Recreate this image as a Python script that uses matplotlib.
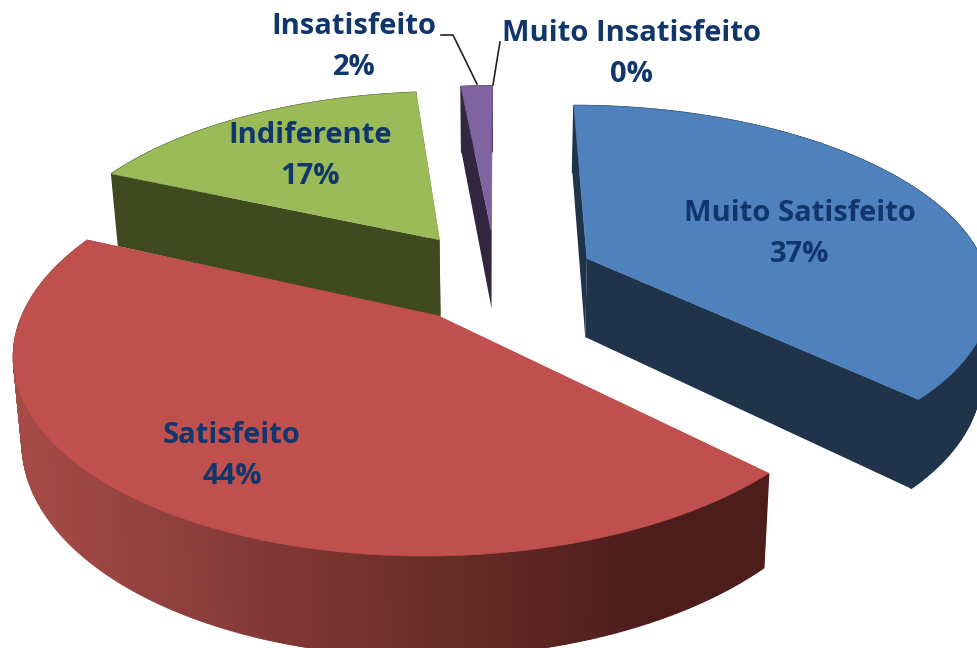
import numpy as np
import matplotlib
matplotlib.use("Agg")
import matplotlib.pyplot as plt
from matplotlib.patches import Polygon
from matplotlib.colors import to_rgb

labels = ["Muito Satisfeito", "Satisfeito", "Indiferente", "Insatisfeito", "Muito Insatisfeito"]
values = [37.3, 44.4, 16.8, 1.5, 0]
top_colors = ["#4f81bd", "#c0504d", "#9bbb59", "#8064a2", "#4bacc6"]
wall_light = ["#1f334b", "#a54b47", "#3f4a20", "#33273f", "#245a68"]
wall_dark = ["#1f334b", "#4c1d1b", "#3f4a20", "#33273f", "#245a68"]

# text positions in pixels (x, y of the centre of the label)
label_pos = [(800, 234), (232, 456), (310, 156), (354, 47), (631, 54)]
text_color = "#10366b"

# projection of the pie plane to the picture
cx, cy = 496, 276
R = 401
flat = 0.46
persp = 0.17
depth = 80
explode = 0.25


def project(u, v, z=0.0):
    s = 1 / (1 + persp * v)
    x = cx + R * u * s * (1 - 0.018 * z)
    y = cy - R * flat * v * s + z * depth * s
    return np.column_stack([x, y])


def lerp_color(a, b, t):
    a, b = np.array(to_rgb(a)), np.array(to_rgb(b))
    return tuple(a + (b - a) * t)


def draw_slice(ax, start, end, top, light, dark):
    mid = (start + end) / 2
    u0 = explode * np.sin(mid)
    v0 = explode * np.cos(mid)
    th = np.linspace(start, end, max(int((end - start) * 90), 6))
    us = u0 + np.sin(th)
    vs = v0 + np.cos(th)

    # the two cut faces
    for i in (0, -1):
        uu = np.array([u0, us[i]])
        vv = np.array([v0, vs[i]])
        pts = np.vstack([project(uu, vv), project(uu, vv, 1)[::-1]])
        ax.add_patch(Polygon(pts, fc=dark if i else light, ec="none"))

    # outer wall, one strip per angle step so the shading can run across it
    tp = project(us, vs)
    bt = project(us, vs, 1)
    for i in range(len(th) - 1):
        t = np.clip((tp[i, 0] - 20) / 630, 0, 1)
        pts = [tp[i], tp[i + 1], bt[i + 1], bt[i]]
        c = lerp_color(light, dark, t)
        ax.add_patch(Polygon(pts, fc=c, ec=c, lw=1.0))

    face = np.vstack([project(np.array([u0]), np.array([v0])), tp])
    ax.add_patch(Polygon(face, fc=top, ec=top, lw=0.4))


def main():
    fig = plt.figure(figsize=(9.78, 6.48), dpi=100)
    ax = fig.add_axes([0, 0, 1, 1])
    ax.set_xlim(0, 978)
    ax.set_ylim(648, 0)
    ax.axis("off")

    angles = np.cumsum([0] + values) / sum(values) * 2 * np.pi
    for i in [3, 2, 0, 1]:
        draw_slice(ax, angles[i], angles[i + 1], top_colors[i], wall_light[i], wall_dark[i])

    # leader lines of the two small slices
    ax.plot([441, 453, 477], [35, 35, 84], color="#222222", lw=1.2)
    ax.plot([500, 497, 493], [42, 60, 85], color="#222222", lw=1.2)

    for name, val, (x, y) in zip(labels, values, label_pos):
        ax.text(x, y, f"{name}\n{round(val)}%", ha="center", va="center", color=text_color,
                family="Open Sans", weight="bold", fontsize=21, linespacing=1.58)

    fig.savefig("out.png", dpi=100)


if __name__ == '__main__':
    main()
